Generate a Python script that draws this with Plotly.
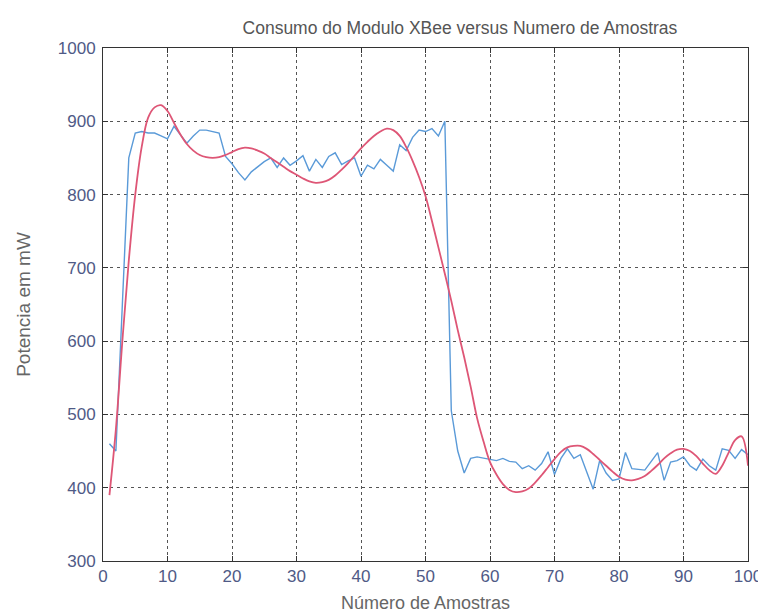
import plotly.graph_objects as go

samples = list(range(1, 101))

potencia_medida = [
    460, 450, 650, 850, 884, 886, 884, 884, 880, 876,
    893, 882, 870, 880, 888, 888, 886, 884, 852, 842,
    830, 820, 831, 838, 845, 850, 837, 850, 840, 846,
    853, 832, 848, 837, 852, 857, 841, 846, 850, 825,
    840, 835, 848, 840, 832, 868, 860, 878, 888, 886,
    890, 880, 900, 505, 450, 420, 440, 442, 440, 438,
    437, 440, 436, 435, 426, 430, 424, 433, 449, 418,
    440, 453, 440, 445, 420, 398, 437, 420, 410, 412,
    448, 426, 425, 424, 436, 448, 410, 435, 437, 442,
    430, 424, 439, 430, 424, 453, 451, 440, 452, 445,
]

potencia_ajuste = [
    390, 480, 600, 710, 800, 865, 905, 919, 922, 914,
    898, 882, 869, 860, 854, 851, 850, 851, 854, 858,
    862, 864, 863, 860, 856, 850, 844, 838, 832, 827,
    822, 818, 816, 817, 820, 826, 834, 843, 853, 863,
    872, 880, 886, 890, 888, 880, 865, 846, 824, 798,
    764, 728, 692, 655, 615, 578, 538, 495, 463, 435,
    418, 405, 397, 394, 395, 399, 407, 417, 428, 439,
    449, 455, 457, 457, 453, 446, 438, 430, 422, 415,
    411, 410, 412, 416, 423, 431, 440, 447, 452, 453,
    450, 443, 433, 424, 419, 430, 448, 465, 470, 430,
]

x_ticks = [0, 10, 20, 30, 40, 50, 60, 70, 80, 90, 100]
y_ticks = [300, 400, 500, 600, 700, 800, 900, 1000]

title_text = "Consumo do Modulo XBee versus Numero de Amostras"
x_title = "Número de Amostras"
y_title = "Potencia em mW"

FONT = "Liberation Sans, Arial, sans-serif"

fig = go.Figure()
fig.add_trace(go.Scatter(x=samples, y=potencia_medida, mode="lines",
                         line=dict(color="#5a9ad8", width=1.4), showlegend=False))
fig.add_trace(go.Scatter(x=samples, y=potencia_ajuste, mode="lines",
                         line=dict(color="#de5676", width=1.8, shape="spline"), showlegend=False))

tick_font = dict(family=FONT, size=17, color="#4f5a86")
axis_common = dict(
    showline=True, linecolor="#333", linewidth=1, mirror="ticks",
    ticks="inside", ticklen=5, tickcolor="#333",
    showgrid=True, gridcolor="#555", gridwidth=1, zeroline=False,
    tickfont=tick_font,
)

fig.update_xaxes(range=[0, 100], tickvals=x_ticks, griddash="dot",
                 title=dict(text=x_title, font=dict(family=FONT, size=18, color="#666"), standoff=10),
                 **axis_common)
fig.update_yaxes(range=[300, 1000], tickvals=y_ticks, griddash="3px,4px",
                 ticklabelstandoff=3,
                 title=dict(text=y_title, font=dict(family=FONT, size=19, color="#666"), standoff=22),
                 **axis_common)

fig.update_layout(
    width=766, height=613, autosize=False,
    margin=dict(l=95, r=16, t=40, b=51),
    paper_bgcolor="white", plot_bgcolor="white",
    title=dict(text=title_text, x=0.59, xanchor="center", y=0.967, yanchor="middle",
               font=dict(family=FONT, size=17.5, color="#555")),
)

fig.write_html("out.html")
